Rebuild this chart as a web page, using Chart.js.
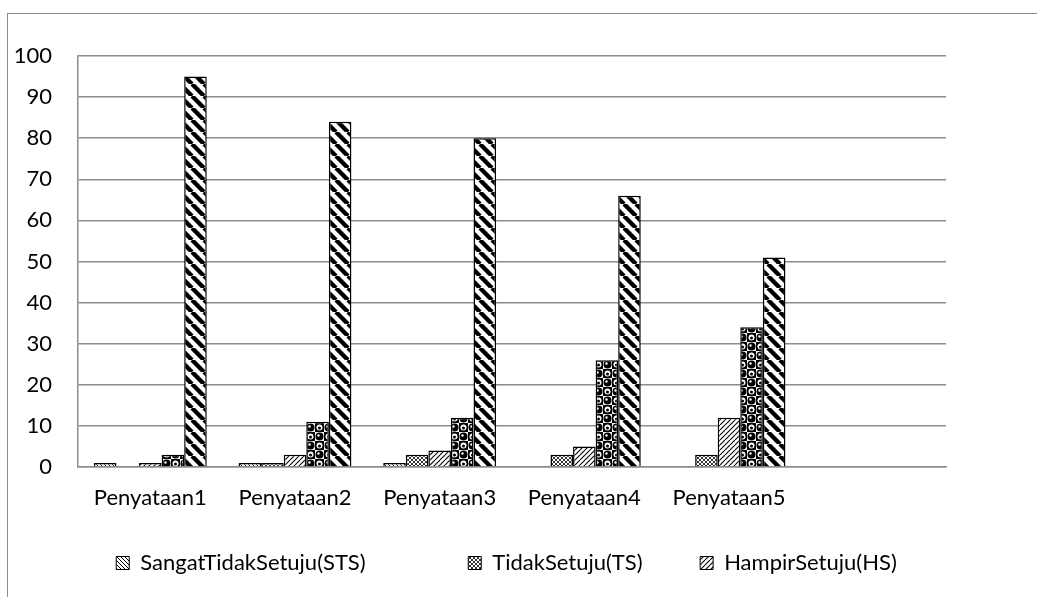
<!DOCTYPE html>
<html>
<head>
<meta charset="utf-8">
<script src="https://cdn.jsdelivr.net/npm/chart.js@4.4.1/dist/chart.umd.min.js"></script>
<style>
  html, body { margin: 0; padding: 0; background: #fff; overflow: hidden; }
  #frame {
    position: absolute; left: 7px; top: 13px; width: 1100px; height: 700px;
    border-left: 1.5px solid #8c8c8c; border-top: 1.5px solid #8c8c8c;
  }
  #canvas { position: absolute; left: 0; top: 0; }
</style>
</head>
<body>
<div id="frame"></div>
<canvas id="canvas" width="1037" height="597"></canvas>
<script>
'use strict';

// data
const categories = ['Penyataan1', 'Penyataan2', 'Penyataan3', 'Penyataan4', 'Penyataan5', ''];
const seriesNames = ['SangatTidakSetuju(STS)', 'TidakSetuju(TS)', 'HampirSetuju(HS)', 'Setuju(S)', 'SangatSetuju(SS)'];
const stsValues = [1, 1, 1, 0, 0];
const tsValues = [0, 1, 3, 3, 3];
const hsValues = [1, 3, 4, 5, 12];
const sValues = [3, 11, 12, 26, 34];
const ssValues = [95, 84, 80, 66, 51];
const yTicks = [0, 10, 20, 30, 40, 50, 60, 70, 80, 90, 100];

// only the first three series show up in the legend of the original
const legendCount = 3;
const legendTrail = [12, 4, 0];

function tile(size, draw) {
  const c = document.createElement('canvas');
  c.width = size;
  c.height = size;
  const g = c.getContext('2d');
  g.fillStyle = '#fff';
  g.fillRect(0, 0, size, size);
  g.fillStyle = '#000';
  g.strokeStyle = '#000';
  draw(g, size);
  return g.createPattern(c, 'repeat');
}

function diag(g, s, w, back) {
  g.lineWidth = w;
  for (let k = -1; k <= 1; k++) {
    g.beginPath();
    if (back) {
      g.moveTo(k * s, 0);
      g.lineTo(k * s + s, s);
    } else {
      g.moveTo(k * s, s);
      g.lineTo(k * s + s, 0);
    }
    g.stroke();
  }
}

function dot(g, x, y, r, col) {
  g.fillStyle = col;
  g.beginPath();
  g.arc(x, y, r, 0, Math.PI * 2);
  g.fill();
}

const patterns = [
  tile(4, (g, s) => diag(g, s, 1, true)),
  tile(4, (g, s) => { diag(g, s, 0.8, true); diag(g, s, 0.8, false); }),
  tile(5, (g, s) => diag(g, s, 1.1, false)),
  tile(18, (g, s) => {
    const h = s / 2;
    g.fillRect(0, 0, h, h);
    g.fillRect(h, h, h, h);
    [[0, 0], [h, h]].forEach(([x, y]) => {
      dot(g, x + h / 2, y + h / 2, 3.0, '#fff');
      dot(g, x + h / 2, y + h / 2 + 0.6, 1.5, '#000');
    });
    [[h, 0], [0, h]].forEach(([x, y]) => {
      dot(g, x + h / 2, y + h / 2, 4.0, '#000');
      dot(g, x + h / 2 - 1, y + h / 2 - 1, 1.2, '#fff');
    });
  }),
  tile(12, (g, s) => diag(g, s, 4.4, true))
];

const allValues = [stsValues, tsValues, hsValues, sValues, ssValues];

const datasets = allValues.map((vals, i) => ({
  label: seriesNames[i],
  data: vals,
  backgroundColor: patterns[i],
  borderColor: '#000',
  borderWidth: 1.5,
  categoryPercentage: 0.78,
  barPercentage: 1.0
}));

const font = { family: 'Lato, "Liberation Sans", sans-serif', size: 22 };

const chart = new Chart(document.getElementById('canvas'), {
  type: 'bar',
  data: { labels: categories, datasets: datasets },
  options: {
    responsive: false,
    animation: false,
    layout: { padding: { left: 0, right: 24, top: 56, bottom: 13 } },
    plugins: {
      tooltip: { enabled: false },
      legend: {
        position: 'bottom',
        labels: {
          font: font,
          color: '#000',
          boxWidth: 13,
          boxHeight: 13,
          padding: 35,
          generateLabels: (ch) => {
            const items = Chart.defaults.plugins.legend.labels.generateLabels(ch);
            return items.slice(0, legendCount).map((it, i) => {
              it.text = it.text + '\u00a0'.repeat(legendTrail[i]);
              it.lineWidth = 1;
              return it;
            });
          }
        }
      }
    },
    scales: {
      x: {
        grid: { display: false },
        border: { display: true, color: '#8c8c8c', width: 1.5 },
        ticks: { font: font, color: '#000', padding: 10, maxRotation: 0, autoSkip: false },
        afterFit: (s) => { s.height = 50; }
      },
      y: {
        min: 0,
        max: 100,
        afterBuildTicks: (s) => { s.ticks = yTicks.map(v => ({ value: v })); },
        grid: { color: '#8c8c8c', lineWidth: 1.5, drawTicks: false },
        border: { display: true, color: '#8c8c8c', width: 1.5 },
        ticks: { font: font, color: '#000', padding: 26 },
        afterFit: (s) => { s.width = 78; }
      },
      yRight: {
        position: 'right',
        grid: { display: false },
        border: { display: false },
        ticks: { display: false },
        afterFit: (s) => { s.width = 67; }
      }
    }
  }
});
</script>
</body>
</html>
